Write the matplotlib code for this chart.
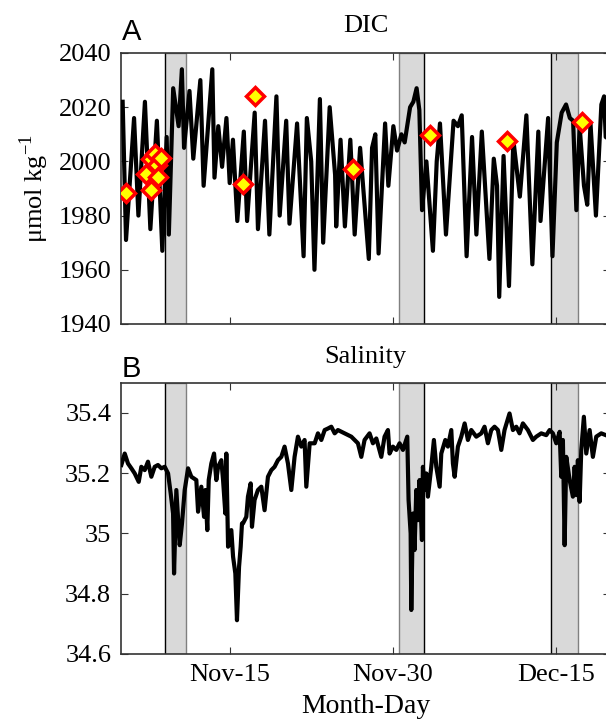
import matplotlib
matplotlib.use("Agg")
import matplotlib.pyplot as plt
import numpy as np

# x values are days counted from Oct-31 (so Nov-15 = 15, Dec-15 = 45)
dic_day = [5.15, 5.46, 6.2, 6.6, 7.2, 7.7, 8.3, 8.8, 9.2, 9.4, 9.8, 10.3, 10.6, 10.8,
           11.3, 11.65, 12.3, 12.6, 13.4, 13.6, 13.95, 14.3, 14.7, 15.0, 15.3, 15.7,
           16.3, 16.6, 17.3, 17.6, 18.25, 18.65, 19.3, 19.6, 20.2, 20.5, 21.2, 21.8,
           22.1, 22.5, 22.8, 23.3, 23.6, 24.2, 24.7, 24.8, 25.2, 25.6, 26.1, 26.5,
           27.0, 27.8, 28.1, 28.4, 28.7, 29.3, 29.6, 30.06, 30.4, 30.8, 31.1, 31.6,
           31.9, 32.2, 32.45, 32.7, 33.1, 33.7, 34.05, 34.35, 34.9, 35.3, 35.6, 36.0,
           36.35, 36.8, 37.3, 37.7, 38.2, 38.9, 39.3, 39.6, 39.8, 40.2, 40.7, 41.1,
           41.7, 42.3, 42.85, 43.4, 43.6, 44.3, 44.7, 45.1, 45.55, 45.95, 46.3, 46.6,
           46.9, 47.2, 47.6, 47.9, 48.2, 48.7, 49.2, 49.45, 49.6, 50.0]
dic_val = [2022, 1971, 2016, 1980, 2022, 1975, 2015, 1967, 2009, 1973, 2027, 2013, 2034, 2005,
           2026, 2001, 2030, 1991, 2034, 1994, 2013, 1998, 2016, 1992, 2008, 1978,
           2011, 1978, 2018, 1975, 2015, 1973, 2024, 1980, 2015, 1977, 2014, 1965,
           2016, 2000, 1960, 2023, 1970, 2020, 1995, 1976, 2008, 1976, 2008, 1973,
           2005, 1964, 2005, 2010, 1966, 2014, 1991, 2013, 2004, 2010, 2007, 2020,
           2022, 2027, 2019, 1982, 2000, 1967, 2000, 2014, 1973, 1997, 2015, 2013,
           2017, 1965, 2009, 1973, 2011, 1964, 2001, 1991, 1950, 2002, 1954, 2008,
           1987, 2017, 1962, 2011, 1978, 2016, 1965, 2007, 2018, 2021, 2016, 2015,
           1982, 2013, 1991, 1984, 2014, 1980, 2021, 2024, 2009, 2008]

# discrete bottle samples
sample_day = [5.5, 7.33, 7.73, 7.8, 8.1, 8.3, 8.4, 8.65, 16.2, 17.33, 26.37, 33.43, 40.48, 47.38]
sample_val = [1988.5, 1995.2, 1989.4, 2001.0, 2002.9, 1998.6, 1994.3, 2001.4, 1991.5, 2024.0,
              1997.1, 2009.7, 2007.5, 2014.6]

sal_day = [5.03, 5.34, 5.64, 5.95, 6.26, 6.63, 6.87, 7.18, 7.48, 7.79, 8.10, 8.40, 8.71, 9.02,
           9.33, 9.57, 9.79, 9.88, 10.09, 10.40, 10.61, 10.86, 11.17, 11.47, 11.93, 12.09,
           12.39, 12.64, 12.76, 12.94, 13.07, 13.31, 13.56, 13.77, 13.93, 14.23, 14.39,
           14.60, 14.69, 14.85, 15.15, 15.31, 15.52, 15.67, 15.86, 16.01, 16.13,
           16.22, 16.53, 16.68, 16.93, 17.05, 17.29, 17.60, 17.91, 18.21, 18.52, 18.83,
           19.13, 19.44, 19.75, 20.05, 20.36, 20.67, 20.97, 21.28, 21.59, 21.89, 22.05,
           22.36, 22.82, 23.12, 23.43, 23.74, 24.04, 24.35, 24.66, 24.96, 25.58, 26.19,
           26.80, 27.11, 27.41, 27.87, 28.18, 28.49, 28.95, 29.25, 29.56, 29.71, 30.02,
           30.33, 30.63, 30.94, 31.34, 31.46, 31.65, 31.71, 31.86, 32.01, 32.17, 32.32,
           32.47, 32.69, 32.78, 32.93, 33.09, 33.24, 33.55, 33.79, 34.01, 34.32, 34.47,
           34.84, 35.08, 35.39, 35.54, 35.70, 36.00, 36.31, 36.62, 36.92, 37.23, 37.69,
           38.15, 38.45, 38.76, 39.07, 39.37, 39.68, 39.99, 40.29, 40.75, 41.06, 41.37,
           41.67, 41.98, 42.44, 42.90, 43.21, 43.67, 44.13, 44.44, 44.74, 45.05, 45.36,
           45.51, 45.66, 45.82, 45.97, 46.28, 46.58, 46.74, 46.89, 47.04, 47.20, 47.35,
           47.59, 47.81, 48.12, 48.42, 48.73, 49.19, 49.62, 50.0]
sal_val = [35.227, 35.265, 35.232, 35.216, 35.199, 35.171, 35.221, 35.210, 35.238, 35.188,
           35.221, 35.227, 35.216, 35.221, 35.199, 35.133, 35.066, 34.867, 35.144, 34.961,
           35.033, 35.144, 35.216, 35.188, 35.177, 35.072, 35.155, 35.055, 35.144, 35.011,
           35.177, 35.232, 35.265, 35.177, 35.221, 35.243, 35.177, 35.066, 35.265, 34.956,
           35.011, 34.923, 34.867, 34.712, 34.889, 34.956, 35.033,
           35.033, 35.055, 35.122, 35.166, 35.022, 35.111, 35.144, 35.155, 35.077, 35.188,
           35.210, 35.221, 35.243, 35.254, 35.288, 35.232, 35.144, 35.254, 35.321, 35.288,
           35.310, 35.155, 35.299, 35.299, 35.332, 35.310, 35.343, 35.348, 35.354, 35.332,
           35.343, 35.332, 35.321, 35.299, 35.254, 35.310, 35.332, 35.299, 35.315, 35.254,
           35.321, 35.343, 35.265, 35.288, 35.277, 35.299, 35.277, 35.321, 35.111, 35.000,
           34.746, 35.066, 34.945, 35.144, 35.044, 35.177, 34.978, 35.221, 35.144, 35.199,
           35.122, 35.221, 35.310, 35.221, 35.155, 35.265, 35.310, 35.288, 35.343, 35.232,
           35.188, 35.288, 35.321, 35.365, 35.310, 35.343, 35.321, 35.332, 35.354, 35.299,
           35.343, 35.354, 35.343, 35.277, 35.343, 35.398, 35.343, 35.354, 35.332, 35.365,
           35.343, 35.310, 35.321, 35.332, 35.326, 35.343, 35.332, 35.299, 35.337, 35.188,
           35.310, 34.961, 35.254, 35.177, 35.122, 35.221, 35.127, 35.243, 35.105, 35.277,
           35.387, 35.265, 35.343, 35.254, 35.321, 35.332, 35.326, 35.320]

# storm periods (shaded) and the event line drawn on one edge of each
storm_start = [9.02, 30.55, 44.53]
storm_end = [11.0, 32.87, 47.07]
event_line = [9.02, 32.87, 44.53]

tick_pos = [15, 30, 45]
tick_lab = ["Nov-15", "Nov-30", "Dec-15"]

plt.rcParams["font.family"] = ["Liberation Serif", "DejaVu Serif"]
plt.rcParams["font.size"] = 19

fig = plt.figure(figsize=(6.06, 7.24), dpi=100)
ax1 = fig.add_axes([0.1997, 0.5525, 0.807, 0.3743])
ax2 = fig.add_axes([0.1997, 0.0967, 0.807, 0.3747])

for ax in (ax1, ax2):
    for s, e, ln in zip(storm_start, storm_end, event_line):
        ax.axvspan(s, e, facecolor="#d9d9d9", edgecolor="#808080", linewidth=1.0, zorder=1)
        ax.axvline(ln, color="black", linewidth=0.9, zorder=1.5)
    ax.set_xlim(5, 50)
    ax.set_xticks(tick_pos)
    ax.tick_params(direction="in", top=True, right=True, length=5, width=0.8,
                   pad=7, labelsize=19, color="#333333")
    for sp in ax.spines.values():
        sp.set_color("#333333")
        sp.set_linewidth(1.2)

ax1.plot(dic_day, dic_val, color="black", linewidth=3.0, zorder=3)
ax1.plot(sample_day, sample_val, linestyle="none", marker="D", markersize=9,
         markerfacecolor="yellow", markeredgecolor="red", markeredgewidth=2.5, zorder=4)
ax1.set_ylim(1940, 2040)
ax1.set_yticks([1940, 1960, 1980, 2000, 2020, 2040])
ax1.set_xticklabels([])
ax1.set_ylabel("μmol kg$^{\\mathregular{-1}}$", fontsize=19, labelpad=5)
ax1.set_title("DIC", fontsize=19, pad=15)

ax2.plot(sal_day, sal_val, color="black", linewidth=3.0, zorder=3)
ax2.set_ylim(34.6, 35.5)
ax2.set_yticks([34.6, 34.8, 35.0, 35.2, 35.4])
ax2.set_yticklabels(["34.6", "34.8", "35", "35.2", "35.4"])
ax2.set_xticklabels(tick_lab)
ax2.set_xlabel("Month-Day", fontsize=20, labelpad=6)
ax2.set_title("Salinity", fontsize=19, pad=14)

fig.text(0.201, 0.945, "A", fontsize=21, family="Liberation Sans", va="baseline")
fig.text(0.201, 0.479, "B", fontsize=21, family="Liberation Sans", va="baseline")

fig.savefig("out.png", dpi=100)
